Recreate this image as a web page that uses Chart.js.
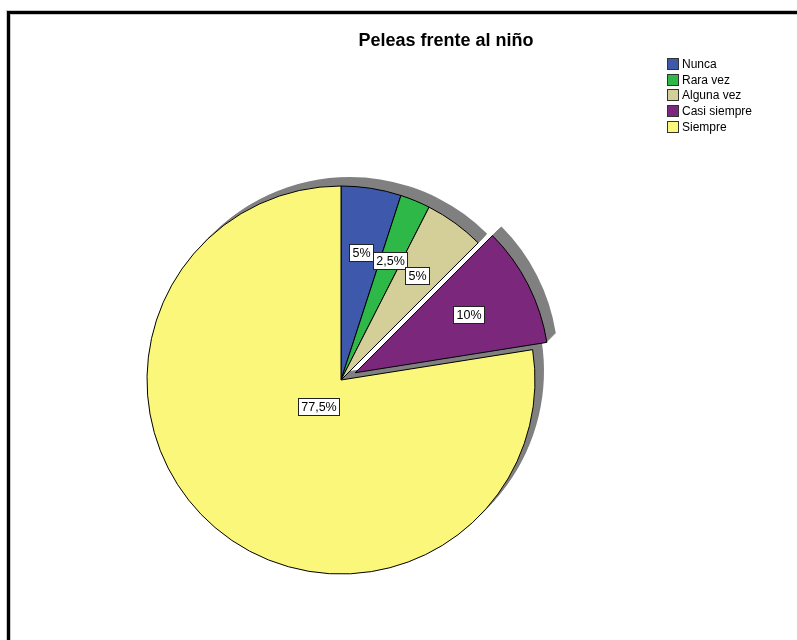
<!DOCTYPE html>
<html>
<head>
<meta charset="utf-8">
<script src="https://cdn.jsdelivr.net/npm/chart.js@4.4.1/dist/chart.umd.min.js"></script>
<style>
  html, body { margin: 0; padding: 0; background: #fff; }
  canvas { display: block; }
</style>
</head>
<body>
<canvas id="pieChart" width="797" height="640"></canvas>
<script>
// Chart data
const categories = ['Nunca', 'Rara vez', 'Alguna vez', 'Casi siempre', 'Siempre'];
const percentages = [5, 2.5, 5, 10, 77.5];
const chartTitle = 'Peleas frente al niño';

const sliceColors = ['#3E58AC', '#2EB848', '#D4CE98', '#7B287C', '#FBF77A'];
const shadowColor = '#808080';
const fontFamily = 'Arial, "Liberation Sans", sans-serif';
// Pixels each slice is pulled out from the centre (style only)
const explodeBy = [0, 0, 0, 16, 0];

// Format 2.5 -> "2,5%"
function formatPct(v) {
    return String(v).replace('.', ',') + '%';
}

// Move of a slice along its mid angle
function sliceShift(arc, i) {
    const {startAngle, endAngle} = arc.getProps(['startAngle', 'endAngle']);
    const mid = (startAngle + endAngle) / 2;
    const d = explodeBy[i] || 0;
    return { dx: Math.cos(mid) * d, dy: Math.sin(mid) * d };
}

// White background and the black frame at top and left
const framePlugin = {
    id: 'frame',
    beforeDraw(chart) {
        const ctx = chart.ctx;
        ctx.save();
        ctx.fillStyle = '#fff';
        ctx.fillRect(0, 0, chart.width, chart.height);
        ctx.fillStyle = '#c8c8c8';
        ctx.fillRect(6, 10, chart.width, 1);
        ctx.fillRect(6, 10, 1, chart.height);
        ctx.fillRect(10, 14, chart.width, 1);
        ctx.fillRect(10, 14, 1, chart.height);
        ctx.fillStyle = '#000';
        ctx.fillRect(7, 11, chart.width, 3);
        ctx.fillRect(7, 11, 3, chart.height);
        ctx.restore();
    }
};

// Draw slices ourselves: grey extruded shadow first, then the exploded slices
const slicesPlugin = {
    id: 'slices',
    beforeDatasetDraw(chart, args) {
        const ctx = chart.ctx;
        const arcs = args.meta.data;
        // shadow, shifted up-right a few times
        for (let s = 9; s >= 1; s--) {
            arcs.forEach((arc, i) => {
                const {dx, dy} = sliceShift(arc, i);
                const saved = arc.options;
                arc.options = Object.assign({}, saved, {
                    backgroundColor: shadowColor,
                    borderColor: shadowColor,
                    borderWidth: 0
                });
                ctx.save();
                ctx.translate(dx + s, dy - s);
                arc.draw(ctx);
                ctx.restore();
                arc.options = saved;
            });
        }
        // the slices
        arcs.forEach((arc, i) => {
            const {dx, dy} = sliceShift(arc, i);
            ctx.save();
            ctx.translate(dx, dy);
            arc.draw(ctx);
            ctx.restore();
        });
        return false;
    }
};

// Percentage labels in white boxes at each slice's centroid
const labelPlugin = {
    id: 'sliceLabels',
    afterDatasetsDraw(chart) {
        const ctx = chart.ctx;
        const arcs = chart.getDatasetMeta(0).data;
        const values = chart.data.datasets[0].data;
        ctx.save();
        ctx.font = '12.5px ' + fontFamily;
        ctx.textAlign = 'center';
        ctx.textBaseline = 'middle';
        arcs.forEach((arc, i) => {
            const {x, y, startAngle, endAngle, outerRadius} = arc.getProps(['x', 'y', 'startAngle', 'endAngle', 'outerRadius']);
            const theta = endAngle - startAngle;
            const mid = (startAngle + endAngle) / 2;
            const {dx, dy} = sliceShift(arc, i);
            const r = 4 * outerRadius * Math.sin(theta / 2) / (3 * theta);
            const cx = x + dx + Math.cos(mid) * r;
            const cy = y + dy + Math.sin(mid) * r;
            const text = formatPct(values[i]);
            const w = Math.round(ctx.measureText(text).width) + 6;
            const h = 17;
            const bx = Math.round(cx - w / 2) + 0.5;
            const by = Math.round(cy - h / 2) + 0.5;
            ctx.fillStyle = '#fff';
            ctx.fillRect(bx, by, w, h);
            ctx.strokeStyle = '#222';
            ctx.lineWidth = 1;
            ctx.strokeRect(bx, by, w, h);
            ctx.fillStyle = '#000';
            ctx.fillText(text, bx + w / 2, by + h / 2 + 0.5);
        });
        ctx.restore();
    }
};

// Title and legend in the upper part
const titleLegendPlugin = {
    id: 'titleLegend',
    afterDraw(chart) {
        const ctx = chart.ctx;
        ctx.save();
        ctx.fillStyle = '#000';
        ctx.font = 'bold 18px ' + fontFamily;
        ctx.textAlign = 'center';
        ctx.textBaseline = 'middle';
        ctx.fillText(chartTitle, 446, 41);

        ctx.font = '12px ' + fontFamily;
        ctx.textAlign = 'left';
        chart.data.labels.forEach((label, i) => {
            const yc = 64 + i * 15.7;
            const by = Math.round(yc - 6) + 0.5;
            ctx.fillStyle = chart.data.datasets[0].backgroundColor[i];
            ctx.fillRect(667.5, by, 11, 11);
            ctx.strokeStyle = '#333';
            ctx.lineWidth = 1;
            ctx.strokeRect(667.5, by, 11, 11);
            ctx.fillStyle = '#000';
            ctx.fillText(label, 682, yc + 0.5);
        });
        ctx.restore();
    }
};

const ctx = document.getElementById('pieChart').getContext('2d');
const pieChart = new Chart(ctx, {
    type: 'pie',
    data: {
        labels: categories,
        datasets: [{
            data: percentages,
            backgroundColor: sliceColors,
            borderColor: '#000',
            borderWidth: 1
        }]
    },
    options: {
        responsive: false,
        animation: false,
        devicePixelRatio: 1,
        radius: 194,
        layout: { padding: { left: 0, right: 115, top: 120, bottom: 0 } },
        plugins: {
            legend: { display: false },
            title: { display: false },
            tooltip: { enabled: false }
        }
    },
    plugins: [framePlugin, slicesPlugin, labelPlugin, titleLegendPlugin]
});
</script>
</body>
</html>
